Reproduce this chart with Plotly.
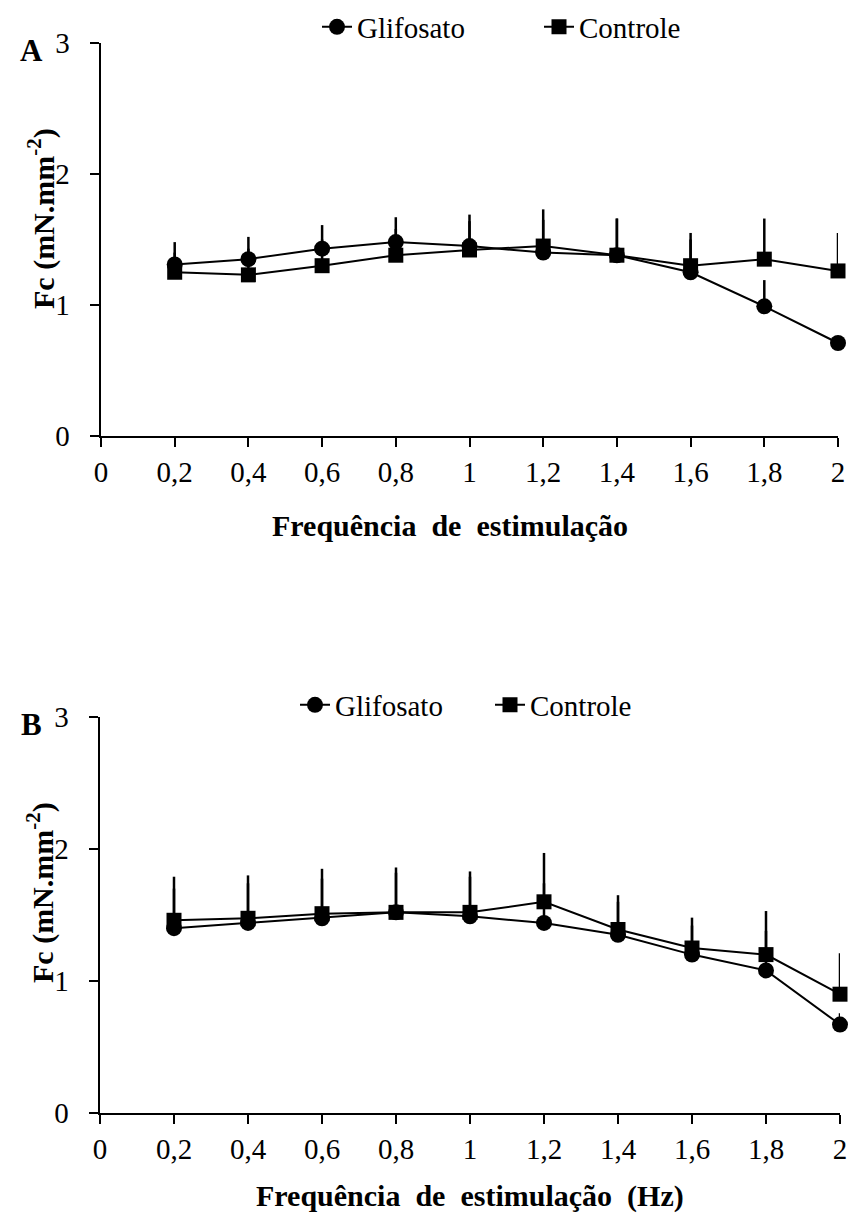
import plotly.graph_objects as go

# ---------------- data ----------------
freq = [0.2, 0.4, 0.6, 0.8, 1.0, 1.2, 1.4, 1.6, 1.8, 2.0]

glif_A = [1.31, 1.35, 1.43, 1.48, 1.45, 1.40, 1.38, 1.25, 0.99, 0.71]
glif_A_err = [0.17, 0.17, 0.18, 0.19, 0.24, 0.25, 0.28, 0.25, 0.20, 0.05]
ctrl_A = [1.25, 1.23, 1.30, 1.38, 1.42, 1.45, 1.38, 1.30, 1.35, 1.26]
ctrl_A_err = [0.15, 0.20, 0.20, 0.20, 0.22, 0.28, 0.28, 0.25, 0.31, 0.29]

glif_B = [1.40, 1.44, 1.475, 1.52, 1.49, 1.44, 1.35, 1.20, 1.08, 0.67]
glif_B_err = [0.30, 0.30, 0.30, 0.30, 0.30, 0.30, 0.25, 0.22, 0.30, 0.085]
ctrl_B = [1.46, 1.475, 1.51, 1.52, 1.52, 1.60, 1.39, 1.25, 1.20, 0.90]
ctrl_B_err = [0.33, 0.325, 0.34, 0.34, 0.31, 0.37, 0.26, 0.23, 0.33, 0.31]

x_tickvals = [0, 0.2, 0.4, 0.6, 0.8, 1.0, 1.2, 1.4, 1.6, 1.8, 2.0]
x_ticktext = ["0", "0,2", "0,4", "0,6", "0,8", "1", "1,2", "1,4", "1,6", "1,8", "2"]
y_tickvals = [0, 1, 2, 3]
y_ticktext = ["0", "1", "2", "3"]

series_names = ["Glifosato", "Controle"]

FONT = "Liberation Serif"
W, H = 850, 1213


def py(px):
    return 1 - px / H


def px_x(px):
    return px / W


fig = go.Figure()


def add_series(x, y, err, name, symbol, xa, ya, legend, size):
    fig.add_trace(go.Scatter(
        x=x, y=y, name=name, mode="lines+markers",
        line=dict(color="black", width=2),
        marker=dict(symbol=symbol, size=size, color="black"),
        error_y=dict(type="data", symmetric=False, array=err,
                     arrayminus=[0] * len(err), color="black",
                     thickness=2.5, width=0),
        xaxis=xa, yaxis=ya, legend=legend, cliponaxis=False,
    ))


add_series(freq, ctrl_A, ctrl_A_err, series_names[1], "square", "x", "y", "legend", 15)
add_series(freq, glif_A, glif_A_err, series_names[0], "circle", "x", "y", "legend", 16)
add_series(freq, ctrl_B, ctrl_B_err, series_names[1], "square", "x2", "y2", "legend2", 15)
add_series(freq, glif_B, glif_B_err, series_names[0], "circle", "x2", "y2", "legend2", 16)

axis_common = dict(showline=True, linecolor="black", linewidth=2, ticks="outside",
                   ticklen=9, tickwidth=2, tickcolor="black", showgrid=False,
                   zeroline=False, automargin=False,
                   tickfont=dict(family=FONT, size=29, color="black"))

y_suffix = "\u00a0\u00a0"

fig.update_layout(
    width=W, height=H,
    margin=dict(l=0, r=0, t=0, b=0, autoexpand=False),
    paper_bgcolor="white", plot_bgcolor="white",
    showlegend=True,
    xaxis=dict(domain=[px_x(101), px_x(838)], range=[0, 2], anchor="y",
               tickvals=x_tickvals, ticktext=x_ticktext, ticklabelstandoff=0, **axis_common),
    yaxis=dict(domain=[py(436), py(43)], range=[0, 3], anchor="x",
               tickvals=y_tickvals, ticktext=[t + y_suffix for t in y_ticktext], **axis_common),
    xaxis2=dict(domain=[px_x(100), px_x(840)], range=[0, 2], anchor="y2",
                tickvals=x_tickvals, ticktext=x_ticktext, ticklabelstandoff=0, **axis_common),
    yaxis2=dict(domain=[py(1113), py(717)], range=[0, 3], anchor="x2",
                tickvals=y_tickvals, ticktext=[t + y_suffix for t in y_ticktext], **axis_common),
    legend=dict(orientation="h", x=px_x(317), y=py(27), xanchor="left", yanchor="middle",
                traceorder="reversed", entrywidth=177, entrywidthmode="pixels",
                font=dict(family=FONT, size=29, color="black"),
                bgcolor="rgba(0,0,0,0)", itemclick=False),
    legend2=dict(orientation="h", x=px_x(295), y=py(705), xanchor="left", yanchor="middle",
                 traceorder="reversed", entrywidth=150, entrywidthmode="pixels",
                 font=dict(family=FONT, size=29, color="black"),
                 bgcolor="rgba(0,0,0,0)", itemclick=False),
)

title_font = dict(family=FONT, size=30, color="black")
ann = [
    dict(text="<b>Frequência\u00a0 de\u00a0 estimulação</b>", x=px_x(450), y=py(525)),
    dict(text="<b>Frequência\u00a0 de\u00a0 estimulação\u00a0 (Hz)</b>", x=px_x(470), y=py(1196)),
    dict(text="<b>Fc (mN.mm<sup>-2</sup>)</b>", x=px_x(41), y=py(219), textangle=-90),
    dict(text="<b>Fc (mN.mm<sup>-2</sup>)</b>", x=px_x(40), y=py(893), textangle=-90),
    dict(text="<b>A</b>", x=px_x(31), y=py(50), font=dict(family=FONT, size=31, color="black")),
    dict(text="<b>B</b>", x=px_x(31), y=py(724), font=dict(family=FONT, size=31, color="black")),
]
for a in ann:
    a.setdefault("font", title_font)
    fig.add_annotation(xref="paper", yref="paper", showarrow=False,
                       xanchor="center", yanchor="middle", **a)

fig.write_html("out.html")
